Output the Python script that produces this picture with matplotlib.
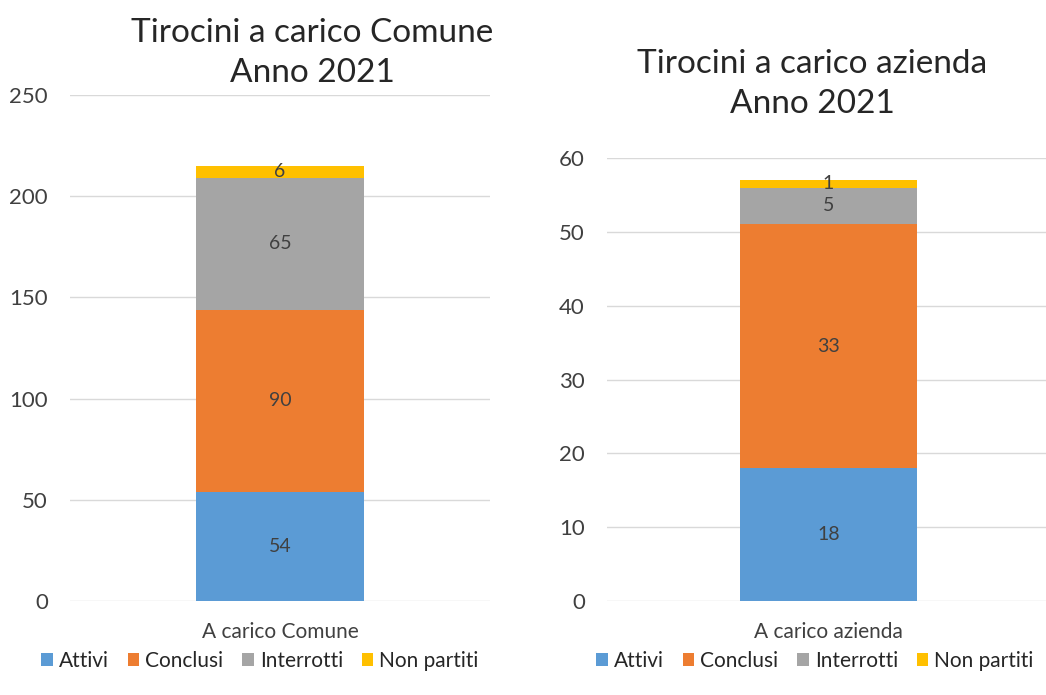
import matplotlib
matplotlib.use("Agg")
import matplotlib.pyplot as plt
from matplotlib.patches import Patch

plt.rcParams["font.family"] = ["Lato", "DejaVu Sans"]

# serie e valori dei due grafici
serie = ["Attivi", "Conclusi", "Interrotti", "Non partiti"]
colori = ["#5B9BD5", "#ED7D31", "#A5A5A5", "#FFC000"]

comune_cat = "A carico Comune"
comune_val = [54, 90, 65, 6]
comune_ticks = [0, 50, 100, 150, 200, 250]

azienda_cat = "A carico azienda"
azienda_val = [18, 33, 5, 1]
azienda_ticks = [0, 10, 20, 30, 40, 50, 60]

W, H = 1046, 695
fig = plt.figure(figsize=(W / 100, H / 100), dpi=100)


def px_axes(x0, y_top, x1, y_bot):
    return fig.add_axes([x0 / W, 1 - y_bot / H, (x1 - x0) / W, (y_bot - y_top) / H])


def stacked(ax, cat, valori, ticks):
    base = 0
    for v, c in zip(valori, colori):
        ax.bar([0], [v], bottom=base, width=0.4, color=c, zorder=2)
        ax.text(0, base + v / 2, str(v), ha="center", va="center",
                fontsize=14, color="#404040", zorder=3)
        base += v
    ax.set_xlim(-0.5, 0.5)
    ax.set_ylim(ticks[0], ticks[-1])
    ax.set_yticks(ticks)
    ax.set_xticks([0])
    ax.set_xticklabels([cat], fontsize=15, color="#404040")
    ax.tick_params(axis="y", length=0, pad=16, labelsize=16, labelcolor="#404040")
    ax.tick_params(axis="x", length=0, pad=15)
    ax.grid(axis="y", color="#D9D9D9", lw=1, zorder=0)
    for s in ax.spines.values():
        s.set_visible(False)


ax1 = px_axes(70, 95, 490, 601)
stacked(ax1, comune_cat, comune_val, comune_ticks)

ax2 = px_axes(607, 158, 1050, 601)
stacked(ax2, azienda_cat, azienda_val, azienda_ticks)

fig.text(312 / W, 1 - 53 / H, "Tirocini a carico Comune\nAnno 2021", ha="center",
         va="center", fontsize=24, color="#262626", linespacing=1.45)
fig.text(812 / W, 1 - 84 / H, "Tirocini a carico azienda\nAnno 2021", ha="center",
         va="center", fontsize=24, color="#262626", linespacing=1.45)

handles = [Patch(facecolor=c, label=s) for s, c in zip(serie, colori)]
for cx in (260, 815):
    fig.legend(handles=handles, loc="center", bbox_to_anchor=(cx / W, 1 - 661 / H),
               ncol=4, frameon=False, fontsize=15, handlelength=0.55, handleheight=0.55,
               handletextpad=0.3, columnspacing=0.9, labelcolor="#262626")

fig.savefig("out.png", dpi=100)
